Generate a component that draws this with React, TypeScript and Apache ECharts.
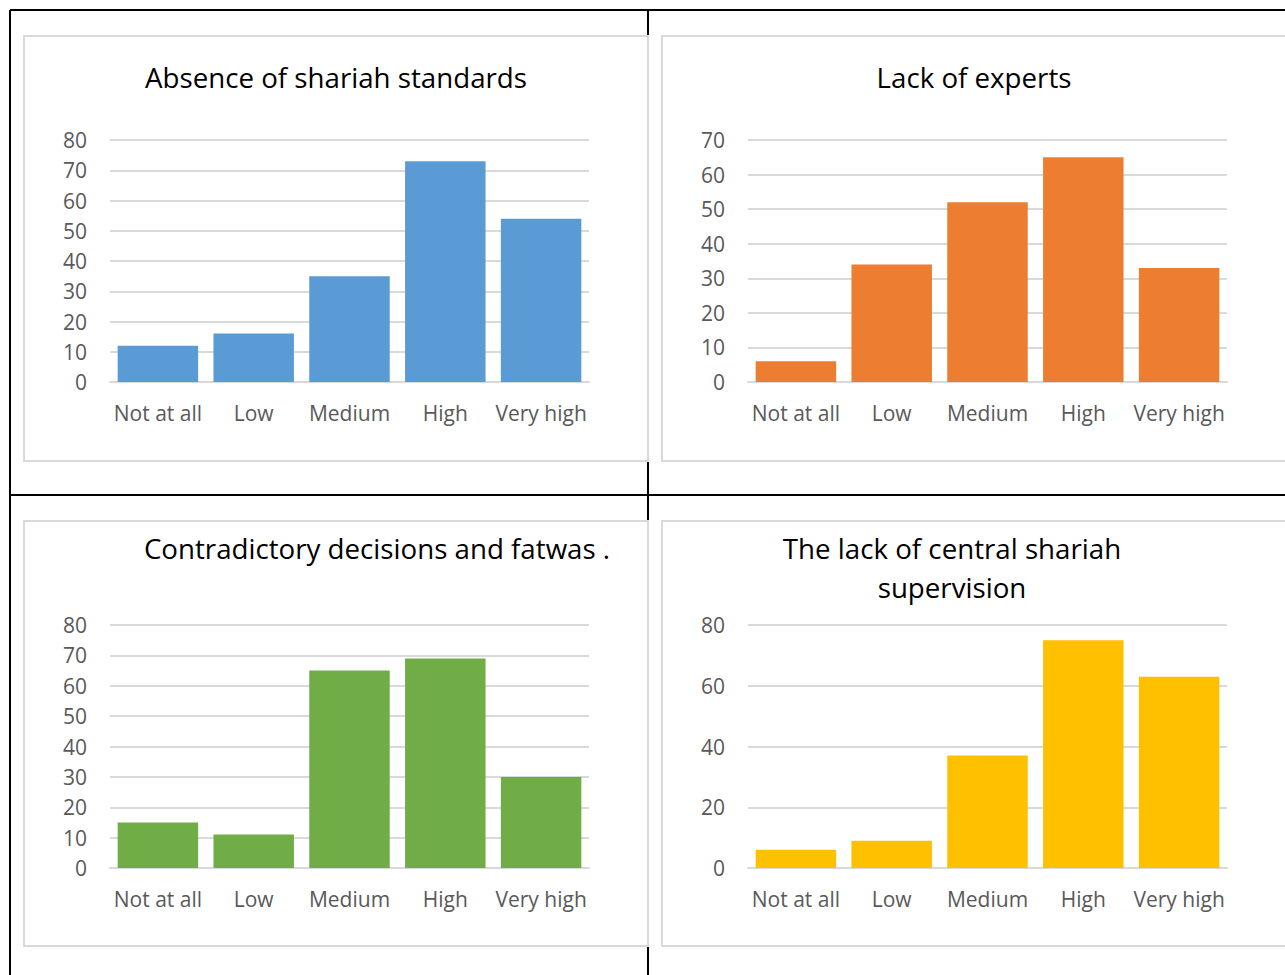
import React, { useEffect, useRef } from "react";
import * as echarts from "echarts";

const categories = ["Not at all", "Low", "Medium", "High", "Very high"];
const standardsValues = [12, 16, 35, 73, 54];
const expertsValues = [6, 34, 52, 65, 33];
const fatwasValues = [15, 11, 65, 69, 30];
const supervisionValues = [6, 9, 37, 75, 63];

const titles = [
  "Absence of shariah standards",
  "Lack of experts",
  "Contradictory decisions and fatwas .",
  "The lack of central shariah\nsupervision",
];
const colors = ["#5b9bd5", "#ed7d31", "#70ad47", "#ffc000"];
const yMax = [80, 70, 80, 80];
const yInterval = [10, 10, 10, 20];

const FONT = "'Open Sans', sans-serif";

export default function App() {
  const ref = useRef<HTMLDivElement>(null);
  useEffect(() => {
    if (!ref.current) return;
    const chart = echarts.init(ref.current, undefined, { renderer: "svg" });
    const seriesData = [standardsValues, expertsValues, fatwasValues, supervisionValues];
    const gridPos = [
      { left: 110, top: 140, width: 479, height: 242 },
      { left: 748, top: 140, width: 479, height: 242 },
      { left: 110, top: 625, width: 479, height: 243 },
      { left: 748, top: 625, width: 479, height: 243 },
    ];
    const titlePos = [
      { x: 336, y: 77 },
      { x: 974, y: 77 },
      { x: 377, y: 548 },
      { x: 952, y: 567 },
    ];
    const lineStyle = { stroke: "#000", lineWidth: 2 };
    const panelStyle = { fill: "#fff", stroke: "#d9d9d9", lineWidth: 2 };
    const graphics: any[] = [
      { type: "line", z: -20, shape: { x1: 10, y1: 10, x2: 1285, y2: 10 }, style: lineStyle },
      { type: "line", z: -20, shape: { x1: 10, y1: 10, x2: 10, y2: 975 }, style: lineStyle },
      { type: "line", z: -20, shape: { x1: 648, y1: 10, x2: 648, y2: 975 }, style: lineStyle },
      { type: "line", z: -20, shape: { x1: 10, y1: 495, x2: 1285, y2: 495 }, style: lineStyle },
      { type: "rect", z: -10, shape: { x: 24, y: 36, width: 624, height: 425 }, style: panelStyle },
      { type: "rect", z: -10, shape: { x: 662, y: 36, width: 624, height: 425 }, style: panelStyle },
      { type: "rect", z: -10, shape: { x: 24, y: 521, width: 624, height: 425 }, style: panelStyle },
      { type: "rect", z: -10, shape: { x: 662, y: 521, width: 624, height: 425 }, style: panelStyle },
    ];
    titles.forEach((t, i) => {
      graphics.push({
        type: "text",
        z: 10,
        x: titlePos[i].x,
        y: titlePos[i].y,
        style: {
          text: t,
          fill: "#000",
          font: `27.7px ${FONT}`,
          align: "center",
          verticalAlign: "middle",
          lineHeight: 39,
        },
      });
    });
    chart.setOption({
      animation: false,
      graphic: { elements: graphics },
      grid: gridPos.map((g) => ({ ...g, containLabel: false })),
      xAxis: gridPos.map((_, i) => ({
        type: "category",
        gridIndex: i,
        data: categories,
        axisTick: { show: false },
        axisLine: { lineStyle: { color: "#d9d9d9", width: 2 } },
        axisLabel: { color: "#595959", fontSize: 21, fontFamily: FONT, margin: 20, interval: 0 },
      })),
      yAxis: gridPos.map((_, i) => ({
        type: "value",
        gridIndex: i,
        min: 0,
        max: yMax[i],
        interval: yInterval[i],
        axisLine: { show: false },
        axisTick: { show: false },
        splitLine: { lineStyle: { color: "#d9d9d9", width: 2 } },
        axisLabel: { color: "#595959", fontSize: 21, fontFamily: FONT, margin: 23 },
      })),
      series: seriesData.map((d, i) => ({
        type: "bar",
        xAxisIndex: i,
        yAxisIndex: i,
        data: d,
        barCategoryGap: "16%",
        itemStyle: { color: colors[i] },
      })),
    });
    return () => chart.dispose();
  }, []);
  return (
    <div
      ref={ref}
      style={{ position: "fixed", left: 0, top: 0, width: 1285, height: 975, background: "#fff" }}
    />
  );
}
